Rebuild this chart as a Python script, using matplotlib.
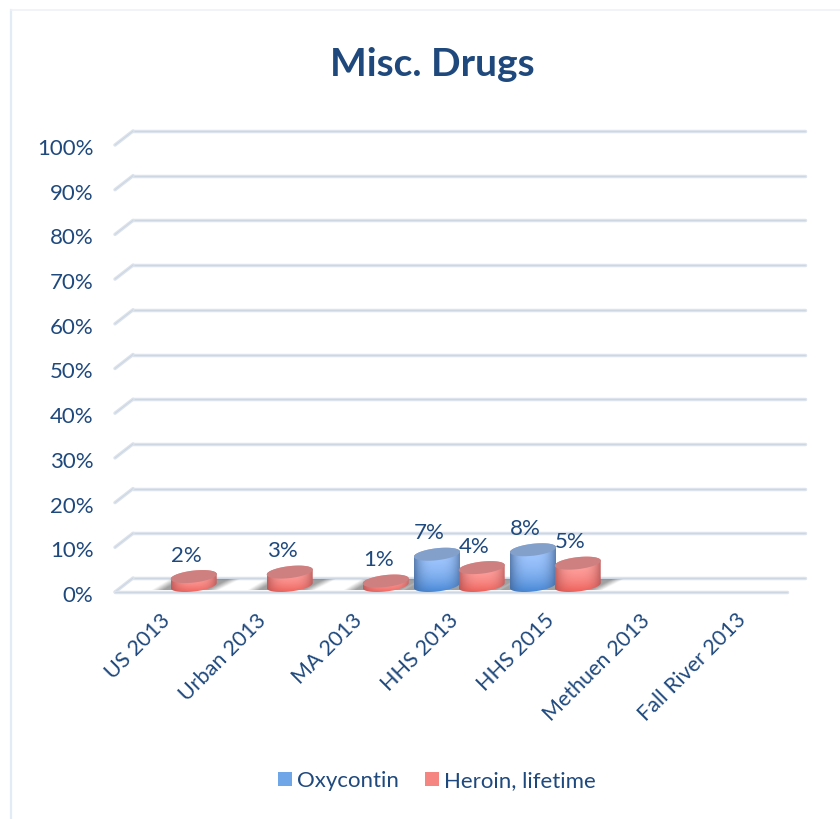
import numpy as np
import matplotlib
matplotlib.use("Agg")
import matplotlib.pyplot as plt
from matplotlib.patches import Polygon, Patch
from matplotlib.lines import Line2D
from matplotlib.transforms import ScaledTranslation

plt.rcParams['font.family'] = ['Lato', 'DejaVu Sans']

categories = ["US 2013", "Urban 2013", "MA 2013", "HHS 2013", "HHS 2015", "Methuen 2013", "Fall River 2013"]
oxycontin = [np.nan, np.nan, np.nan, 7, 8, np.nan, np.nan]
heroin = [2, 3, 1, 4, 5, np.nan, np.nan]
y_ticks = list(range(0, 101, 10))
title_text = "Misc. Drugs"
series_names = ["Oxycontin", "Heroin, lifetime"]

TXT = "#1F497D"
W, H = 840, 819
fig = plt.figure(figsize=(W / 100, H / 100), dpi=100, facecolor="white")
L, R, B, T = 115, 787, 592, 145
ax = fig.add_axes([L / W, 1 - B / H, (R - L) / W, (B - T) / H])
ax.set_facecolor("none")
ppx = 7 / (R - L)          # categories per pixel
ppy = 100 / (B - T)        # percent per pixel
DX, DY = 18 * ppx, 14 * ppy

# outer frame
fig.add_artist(Line2D([11 / W, 11 / W], [0, 1 - 10 / H], color="#E3EBF5", lw=1.6))
fig.add_artist(Line2D([11 / W, 1], [1 - 10 / H, 1 - 10 / H], color="#EDF1F7", lw=1.2))

ax.set_xlim(-0.5, 6.5)
ax.set_ylim(0, 100)
for s in ax.spines.values():
    s.set_visible(False)


def gridline(xs, ys, z=1):
    ax.plot(xs, ys, color="#DCE3EC", lw=2.5, solid_capstyle="round", zorder=z, clip_on=False)
    ax.plot(xs, ys, color="#CBD4E0", lw=0.6, solid_capstyle="round", zorder=z, clip_on=False)


for v in y_ticks:
    gridline([-0.5 + DX, 6.5 + DX], [v + DY, v + DY])
    gridline([-0.5, -0.5 + DX], [v, v + DY])
gridline([-0.5, 6.5], [0, 0], z=1.5)

ax.set_xticks(range(len(categories)))
ax.set_xticklabels(categories, rotation=45, ha="right", va="top", rotation_mode="anchor",
                   fontsize=15.5, color=TXT)
ax.set_yticks(y_ticks)
ax.set_yticklabels([f"{v}%" for v in y_ticks], fontsize=16, color=TXT)
ax.tick_params(axis="both", length=0)
ax.tick_params(axis="y", pad=15.5)
ax.tick_params(axis="x", pad=13)
shift_y = ScaledTranslation(0, -2 / 100, fig.dpi_scale_trans)
shift_x = ScaledTranslation(-3 / 100, 0, fig.dpi_scale_trans)
for lab in ax.get_yticklabels():
    lab.set_transform(lab.get_transform() + shift_y)
for lab in ax.get_xticklabels():
    lab.set_transform(lab.get_transform() + shift_x)

fig.text(432 / W, 1 - 65 / H, title_text, ha="center", va="center", fontsize=28,
         fontweight="bold", color=TXT)

# bar geometry
A = 23 * ppx
EB = 6 * ppy
TILT = 2.5 * ppy
BASE = 6.5 * ppy
OFF_OXY, OFF_HER = -0.146, 0.32
series = [(oxycontin, OFF_OXY, "blue"), (heroin, OFF_HER, "red")]
palette = {
    "blue": dict(top="#82A0CA", hi="#A3C8FF", lo="#3F82D2", edge="#3F6190"),
    "red": dict(top="#CE8080", hi="#FFA5A2", lo="#EC5750", edge="#A84B4B"),
}


def rgb(h):
    return np.array(matplotlib.colors.to_rgb(h))


def ell(cx, cy, t):
    return cx + A * np.cos(t), cy + EB * np.sin(t) + TILT * np.cos(t)


# soft floor shadow
xs = np.linspace(-0.5, 6.5 + DX, 1200)
rows = np.linspace(0, 1, 12)
alpha = np.zeros((len(rows), len(xs)))
for vals, off, _ in series:
    for i, v in enumerate(vals):
        if np.isnan(v):
            continue
        for j, f in enumerate(rows):
            xl = i + off - A - 19 * ppx + 17 * ppx * f
            xr = i + off + A + 3 * ppx + 20 * ppx * f
            fade = 12 * ppx
            a = np.clip(np.minimum((xs - xl) / fade, (xr - xs) / fade), 0, 1)
            alpha[j] = np.maximum(alpha[j], a)
shadow = np.zeros(alpha.shape + (4,))
shadow[..., :3] = 0.40
shadow[..., 3] = alpha * 0.62
ax.imshow(shadow, extent=(xs[0], xs[-1], 0.4, 2.8), origin="lower", aspect="auto",
          zorder=2, interpolation="bilinear")

# cylinders
gy, gx = np.mgrid[0:1:40j, -1:1:60j]
t1 = np.linspace(0, np.pi, 60)
t2 = np.linspace(np.pi, 2 * np.pi, 60)
tt = np.linspace(0, 2 * np.pi, 120)
for vals, off, key in series:
    p = palette[key]
    for i, v in enumerate(vals):
        if np.isnan(v):
            continue
        cx = i + off
        top = BASE + v
        z = 3 + i + (0.5 if key == "red" else 0)
        tx, ty = ell(cx, top, t1)
        bx, by = ell(cx, BASE, t2)
        side = Polygon(np.c_[np.r_[tx, bx], np.r_[ty, by]], closed=True, transform=ax.transData,
                       fc="none", ec="none")
        ax.add_patch(side)
        g2 = (gy ** 2.2)[..., None]
        col = rgb(p["lo"])[None, None, :] * g2 + rgb(p["hi"])[None, None, :] * (1 - g2)
        edge = np.clip(np.abs(gx) ** 3, 0, 1)[..., None]
        col = col * (1 - edge * 0.7) + rgb(p["edge"])[None, None, :] * edge * 0.7
        im = ax.imshow(col[::-1], extent=(cx - A, cx + A, -0.5, top + EB + TILT), origin="lower",
                       aspect="auto", zorder=z, interpolation="bilinear", clip_on=True)
        im.set_clip_path(side)
        ex, ey = ell(cx, top, tt)
        ax.fill(ex, ey, color=p["top"], lw=0, zorder=z + 0.1)
        ax.annotate(f"{int(v)}%", (cx, top), xytext=(-7.5 * 0.72, 21 * 0.72), textcoords="offset points",
                    ha="center", va="center", fontsize=16, color=TXT, zorder=30, annotation_clip=False)

ax.set_xlim(-0.5, 6.5)
ax.set_ylim(0, 100)

# legend
handles = [Patch(fc="#6FA6E8", ec="none", label=series_names[0]),
           Patch(fc="#F58580", ec="none", label=series_names[1])]
leg = fig.legend(handles=handles, loc="center", bbox_to_anchor=(437 / W, 1 - 781 / H), ncol=2,
                 frameon=False, fontsize=16, labelcolor=TXT, handlelength=0.63, handleheight=0.63,
                 handletextpad=0.2, columnspacing=1.2)

fig.canvas.draw()
for h, name in zip(leg.get_patches(), ["blue", "red"]):
    bb = h.get_window_extent()
    iax = fig.add_axes([bb.x0 / W, bb.y0 / H, bb.width / W, bb.height / H])
    iax.axis("off")
    p = palette[name]
    g = np.linspace(0, 1, 30)[:, None, None]
    iax.imshow(rgb(p["hi"])[None, None, :] * (1 - g) + rgb(p["lo"])[None, None, :] * g,
               aspect="auto", interpolation="bilinear")

fig.savefig("out.png", dpi=100, facecolor="white")
